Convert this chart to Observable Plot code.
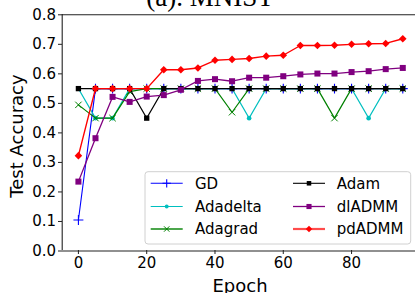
<!DOCTYPE html>
<html>
<head>
<meta charset="utf-8">
<script src="https://cdn.jsdelivr.net/npm/d3@7"></script>
<script src="https://cdn.jsdelivr.net/npm/@observablehq/plot@0.6"></script>
<style>
  html, body { margin: 0; padding: 0; background: #fff; }
  #chart { width: 415px; height: 293px; overflow: hidden; }
</style>
</head>
<body>
<div id="chart"></div>
<script>
const titleText = "(a). MNIST";
const xLabel = "Epoch";
const yLabel = "Test Accuracy";
const epochs = [0,5,10,15,20,25,30,35,40,45,50,55,60,65,70,75,80,85,90,95];
const xTicks = [0,20,40,60,80];
const yTicks = [0,0.1,0.2,0.3,0.4,0.5,0.6,0.7,0.8];
const seriesNames = ["GD","Adadelta","Adagrad","Adam","dlADMM","pdADMM"];
const gd       = [0.105,0.55,0.55,0.55,0.55,0.55,0.55,0.55,0.55,0.55,0.55,0.55,0.55,0.55,0.55,0.55,0.55,0.55,0.55,0.55];
const adadelta = [0.55,0.45,0.45,0.55,0.55,0.55,0.55,0.55,0.55,0.55,0.45,0.55,0.55,0.55,0.55,0.55,0.55,0.45,0.55,0.55];
const adagrad  = [0.495,0.45,0.45,0.54,0.55,0.55,0.55,0.55,0.55,0.47,0.55,0.55,0.55,0.55,0.55,0.45,0.55,0.55,0.55,0.55];
const adam     = [0.55,0.55,0.55,0.55,0.45,0.55,0.55,0.55,0.55,0.55,0.55,0.55,0.55,0.55,0.55,0.55,0.55,0.55,0.55,0.55];
const dladmm   = [0.235,0.382,0.522,0.505,0.523,0.528,0.546,0.576,0.582,0.575,0.587,0.587,0.592,0.598,0.601,0.601,0.606,0.609,0.616,0.620];
const pdadmm   = [0.323,0.55,0.55,0.55,0.55,0.614,0.614,0.620,0.646,0.649,0.652,0.660,0.663,0.696,0.696,0.697,0.700,0.702,0.703,0.719];

const seriesValues = [gd, adadelta, adagrad, adam, dladmm, pdadmm];
const styles = [
  {color:"#0000ff", symbol:"plus",     r:3.3, filled:false, sw:1.1, lw:1.1},
  {color:"#00bfbf", symbol:"circle",   r:2.3, filled:true,  sw:0,   lw:1.1},
  {color:"#008000", symbol:"times",    r:3.0, filled:false, sw:1.0, lw:1.2},
  {color:"#000000", symbol:"square",   r:3.0, filled:true,  sw:0,   lw:1.1},
  {color:"#800080", symbol:"square",   r:3.4, filled:true,  sw:0,   lw:1.3},
  {color:"#ff0000", symbol:"diamond2", r:3.4, filled:true,  sw:0,   lw:1.4}
];

const xDomain = [-4.75, 99.75];
const yDomain = [0, 0.8];

const rows = seriesNames.map((name, i) => epochs.map((e, j) => ({epoch: e, value: seriesValues[i][j], series: name})));

const marks = [];
rows.forEach((data, i) => {
  const s = styles[i];
  marks.push(Plot.line(data, {x:"epoch", y:"value", stroke:s.color, strokeWidth:s.lw}));
  marks.push(Plot.dot(data, {x:"epoch", y:"value", symbol:()=>s.symbol, r:s.r,
    fill: s.filled ? s.color : "none", stroke: s.filled ? "none" : s.color, strokeWidth: s.sw}));
});

const plot = Plot.plot({
  width: 415,
  height: 293,
  marginLeft: 62,
  marginRight: 0,
  marginTop: 14,
  marginBottom: 43,
  style: {fontFamily: "DejaVu Sans", fontSize: "15px", color: "#000", background: "#fff", overflow: "hidden"},
  symbol: {type: "identity"},
  x: {domain: xDomain, range: [61.7, 418.5]},
  y: {domain: yDomain, range: [250.5, 14.3]},
  marks: [
    Plot.axisX({ticks: xTicks, tickSize: 4, tickPadding: 3, label: null, fontSize: 15, tickFormat: d3.format("d"), stroke: "#222"}),
    Plot.axisY({ticks: yTicks, tickSize: 4, tickPadding: 2.5, label: null, fontSize: 15, tickFormat: d3.format(".1f"), stroke: "#222"}),
    ...marks,
    Plot.ruleY([yDomain[1]], {stroke: "#222", strokeWidth: 1.1}),
    Plot.ruleY([yDomain[0]], {stroke: "#222", strokeWidth: 1.1}),
    Plot.ruleX([xDomain[0]], {stroke: "#222", strokeWidth: 1.1})
  ]
});

const svg = d3.select(plot);
// Title (mostly cropped at top, as in the reference)
svg.append("text").attr("x", 210).attr("y", 5.5).attr("text-anchor", "middle")
  .style("font-family", "'Liberation Serif', serif").style("font-size", "27px").attr("fill", "#000")
  .text(titleText);
// axis labels
svg.append("text").attr("x", 240).attr("y", 291.5).attr("text-anchor", "middle")
  .style("font-family", "'DejaVu Sans'").style("font-size", "18px").attr("fill", "#000").text(xLabel);
svg.append("text").attr("transform", "translate(22.5,136) rotate(-90)").attr("text-anchor", "middle")
  .style("font-family", "'DejaVu Sans'").style("font-size", "18px").attr("fill", "#000").text(yLabel);

// Legend
const lg = svg.append("g").attr("text-anchor", "start");
lg.append("rect").attr("x", 145).attr("y", 171.7).attr("width", 265.7).attr("height", 72.3)
  .attr("rx", 3).attr("fill", "#fff").attr("fill-opacity", 0.85).attr("stroke", "#d0d0d0").attr("stroke-width", 1);
const symMap = {plus: d3.symbolPlus, circle: d3.symbolCircle, times: d3.symbolTimes, square: d3.symbolSquare, diamond2: d3.symbolDiamond2};
const rowsY = [183.3, 206.5, 229];
seriesNames.forEach((name, i) => {
  const s = styles[i];
  const col = Math.floor(i / 3), row = i % 3;
  const x0 = col === 0 ? 150.7 : 293, x1 = x0 + 32, tx = col === 0 ? 195 : 336.7;
  const y = rowsY[row];
  const lw = (i === 2 || i === 5) ? 2.2 : s.lw;
  const op = (i === 2 || i === 5) ? 0.7 : 1;
  lg.append("line").attr("x1", x0).attr("x2", x1).attr("y1", y).attr("y2", y)
    .attr("stroke", s.color).attr("stroke-width", lw).attr("stroke-opacity", op);
  const size = Math.PI * (s.r * 0.85) * (s.r * 0.85);
  lg.append("path").attr("d", d3.symbol(symMap[s.symbol], size)())
    .attr("transform", `translate(${(x0 + x1) / 2},${y})`)
    .attr("fill", s.filled ? s.color : "none").attr("stroke", s.filled ? "none" : s.color).attr("stroke-width", s.sw);
  lg.append("text").attr("x", tx).attr("y", y).attr("dy", "0.36em").attr("text-anchor", "start")
    .style("font-family", "'DejaVu Sans'").style("font-size", "15px").attr("fill", "#000").text(name);
});

document.getElementById("chart").appendChild(plot);
</script>
</body>
</html>
